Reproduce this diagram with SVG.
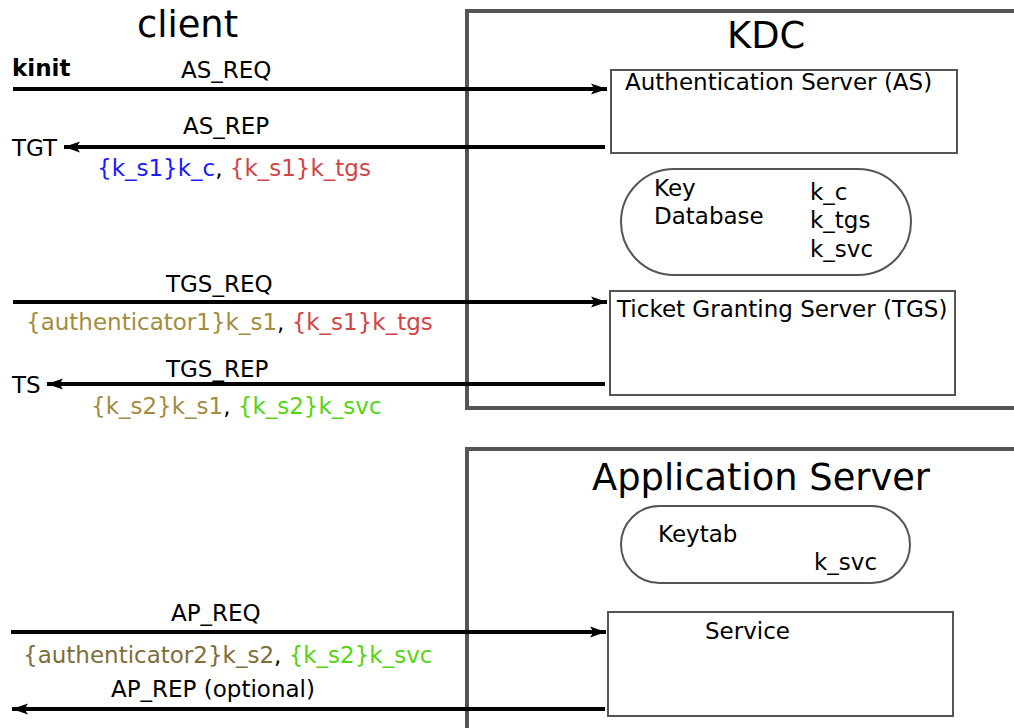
<svg xmlns="http://www.w3.org/2000/svg" width="1014" height="728" viewBox="0 0 1014 728">
<defs>
<style>
text{font-family:"DejaVu Sans","Liberation Sans",sans-serif;font-size:23px;fill:#000}
.title{font-size:36.8px}
.bold{font-weight:bold}
.outer{fill:none;stroke:#555;stroke-width:4}
.inner{fill:#fff;stroke:#555;stroke-width:2}
.pill{fill:#fff;stroke:#555;stroke-width:2}
.msg{stroke:#000;stroke-width:4;fill:none}
.blue{fill:#1a1aff}
.red{fill:#d04545}
.gold{fill:#a38c3d}
.olive{fill:#806d38}
.green{fill:#55d411}
</style>
<marker id="ah" markerUnits="userSpaceOnUse" markerWidth="18" markerHeight="14" viewBox="0 0 18 14" refX="17" refY="7" orient="auto">
<path d="M1,1.5 L17,7 L1,12.5 L4.5,7 Z" fill="#000"/>
</marker>
</defs>

<g id="client">
<text class="title" x="137" y="37">client</text>
<text class="bold" x="12" y="76">kinit</text>
<text x="12" y="156">TGT</text>
<text x="12" y="393">TS</text>
</g>

<g id="kdc">
<rect class="outer" x="467" y="11" width="560" height="397"/>
<text class="title" x="727" y="48">KDC</text>
</g>

<g id="as">
<rect class="inner" x="611" y="70" width="346" height="83"/>
<text x="625" y="90">Authentication Server (AS)</text>
</g>

<g id="keydb">
<rect class="pill" x="621" y="169" width="290" height="106" rx="53" ry="53"/>
<text x="654" y="196">Key</text>
<text x="654" y="224">Database</text>
<text x="810" y="200">k_c</text>
<text x="810" y="228">k_tgs</text>
<text x="810" y="257">k_svc</text>
</g>

<g id="tgs">
<rect class="inner" x="610" y="291" width="345" height="104"/>
<text x="617" y="317">Ticket Granting Server (TGS)</text>
</g>

<g id="appserver">
<rect class="outer" x="467" y="449" width="560" height="300"/>
<text class="title" x="592" y="490">Application Server</text>
</g>

<g id="keytab">
<rect class="pill" x="621" y="506" width="289" height="77" rx="38.5" ry="38.5"/>
<text x="658" y="542">Keytab</text>
<text x="814" y="570">k_svc</text>
</g>

<g id="service">
<rect class="inner" x="608" y="612" width="345" height="104"/>
<text x="705" y="639">Service</text>
</g>

<g id="connectors">
<line class="msg" x1="13" y1="89" x2="607" y2="89" marker-end="url(#ah)"/>
<text x="181" y="78">AS_REQ</text>

<line class="msg" x1="605" y1="147" x2="64" y2="147" marker-end="url(#ah)"/>
<text x="183" y="134">AS_REP</text>
<text x="97" y="176"><tspan class="blue">{k_s1}k_c</tspan>, <tspan class="red">{k_s1}k_tgs</tspan></text>

<line class="msg" x1="13" y1="302" x2="607" y2="302" marker-end="url(#ah)"/>
<text x="166" y="292">TGS_REQ</text>
<text x="26" y="330"><tspan class="gold">{authenticator1}k_s1</tspan>, <tspan class="red">{k_s1}k_tgs</tspan></text>

<line class="msg" x1="605" y1="384" x2="47" y2="384" marker-end="url(#ah)"/>
<text x="166" y="377">TGS_REP</text>
<text x="91" y="414"><tspan class="gold">{k_s2}k_s1</tspan>, <tspan class="green">{k_s2}k_svc</tspan></text>

<line class="msg" x1="11" y1="632" x2="606" y2="632" marker-end="url(#ah)"/>
<text x="171" y="621">AP_REQ</text>
<text x="23" y="663"><tspan class="olive">{authenticator2}k_s2</tspan>, <tspan class="green">{k_s2}k_svc</tspan></text>

<line class="msg" x1="605" y1="709" x2="12" y2="709" marker-end="url(#ah)"/>
<text x="111" y="697">AP_REP (optional)</text>
</g>
</svg>
